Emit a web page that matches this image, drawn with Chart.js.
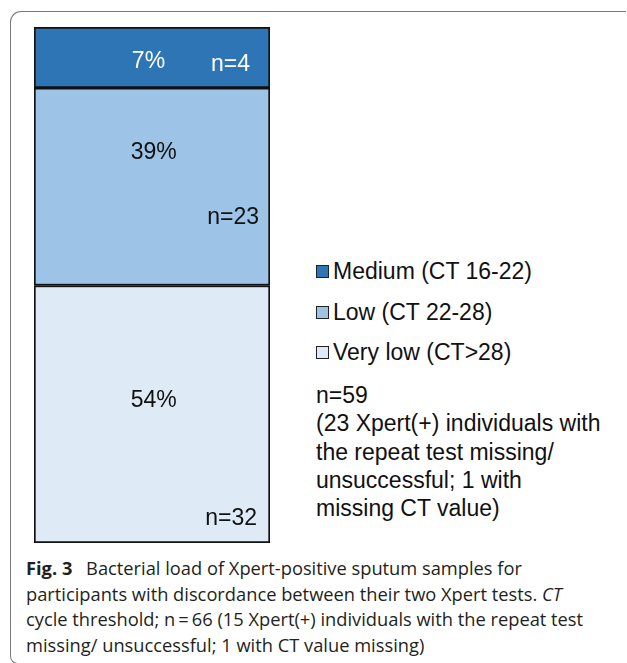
<!DOCTYPE html>
<html>
<head>
<meta charset="utf-8">
<script src="https://cdn.jsdelivr.net/npm/chart.js@4.4.1/dist/chart.umd.min.js"></script>
<style>
  html, body { margin: 0; padding: 0; background: #fff; }
  body { width: 627px; height: 663px; position: relative; overflow: hidden; }
  #frame { position: absolute; left: 10px; top: 11px; width: 616px; height: 653px;
           border-top: 1.5px solid #7a7a7a; border-left: 1.5px solid #7a7a7a;
           border-top-left-radius: 11px; border-bottom-left-radius: 8px;
           border-bottom: 1.5px solid #7a7a7a; box-sizing: border-box; }
  #chartBox { position: absolute; left: 34px; top: 27px; width: 236px; height: 516px; }
  #legend { position: absolute; left: 316px; top: 257px; font-family: "Liberation Sans", Arial, sans-serif;
            font-size: 23px; color: #111; }
  .li { position: absolute; left: 0; white-space: nowrap; line-height: 28px; }
  .sw { display: inline-block; width: 11px; height: 11px; border: 1.5px solid #222; margin-right: 4px;
        vertical-align: 1px; box-sizing: content-box; }
  #note { position: absolute; left: 0; top: 124px; white-space: nowrap; line-height: 28.3px; }
  #caption { position: absolute; left: 26px; top: 555px; font-family: "Open Sans", sans-serif;
             font-size: 18.3px; line-height: 25.5px; color: #231f20; white-space: nowrap; }
  #caption b { font-weight: 700; margin-right: 9px; }
</style>
</head>
<body>
<div id="frame"></div>
<div id="chartBox"><canvas id="c"></canvas></div>
<div id="legend"></div>
<div id="caption"></div>
<script>
// ---- data ----
const categories = ["Discordant Xpert"];
const seriesNames = ["Medium (CT 16-22)", "Low (CT 22-28)", "Very low (CT>28)"];
// segment heights as drawn in the picture (share of bar height, %)
const segmentHeights = [11.8, 38.3, 49.9];
const percentLabels = ["7%", "39%", "54%"];
const countLabels = ["n=4", "n=23", "n=32"];
const noteLines = ["n=59", "(23 Xpert(+) individuals with", "the repeat test missing/", "unsuccessful; 1 with", "missing CT value)"];
const captionLines = [
  "Bacterial load of Xpert-positive sputum samples for",
  "participants with discordance between their two Xpert tests. <i>CT</i>",
  "cycle threshold; n\u2009=\u200966 (15 Xpert(+) individuals with the repeat test",
  "missing/ unsuccessful; 1 with CT value missing)"
];

// ---- styles ----
const colors = ["#2e75b6", "#9dc3e6", "#deebf7"];
const textColors = ["#ffffff", "#111111", "#111111"];
// label placement: fraction of segment height from top; x fraction / right inset
const pctPos = [{fy: 0.57, fx: 0.485}, {fy: 0.33, fx: 0.507}, {fy: 0.447, fx: 0.507}];
const cntPos = [{fy: 0.62, inset: 20}, {fy: 0.655, inset: 11}, {fy: 0.907, inset: 13}];

// datasets stacked bottom-up: very low, low, medium
const order = [2, 1, 0];
const datasets = order.map(i => ({
  label: seriesNames[i],
  data: [segmentHeights[i]],
  backgroundColor: colors[i],
  borderColor: "#111111",
  borderWidth: 2,
  borderSkipped: false,
  barPercentage: 1,
  categoryPercentage: 1,
  _idx: i
}));

const labelPlugin = {
  id: "segLabels",
  afterDatasetsDraw(chart) {
    const ctx = chart.ctx;
    ctx.save();
    ctx.font = '23px "Liberation Sans", Arial, sans-serif';
    ctx.textBaseline = "middle";
    chart.data.datasets.forEach((ds, di) => {
      const el = chart.getDatasetMeta(di).data[0];
      const i = ds._idx;
      const top = Math.min(el.y, el.base), bot = Math.max(el.y, el.base);
      const left = el.x - el.width / 2, right = el.x + el.width / 2;
      ctx.fillStyle = textColors[i];
      ctx.textAlign = "center";
      ctx.fillText(percentLabels[i], left + pctPos[i].fx * el.width, top + pctPos[i].fy * (bot - top));
      ctx.textAlign = "right";
      ctx.fillText(countLabels[i], right - cntPos[i].inset, top + cntPos[i].fy * (bot - top));
    });
    ctx.restore();
  }
};

new Chart(document.getElementById("c"), {
  type: "bar",
  data: { labels: categories, datasets },
  options: {
    responsive: true,
    maintainAspectRatio: false,
    animation: false,
    layout: { padding: 0 },
    plugins: { legend: { display: false }, tooltip: { enabled: false } },
    scales: {
      x: { stacked: true, display: false },
      y: { stacked: true, display: false, min: 0, max: 100 }
    }
  },
  plugins: [labelPlugin]
});

// legend
const legend = document.getElementById("legend");
const legendTops = [0, 41, 81];
[0, 1, 2].forEach(i => {
  const d = document.createElement("div");
  d.className = "li";
  d.style.top = legendTops[i] + "px";
  d.innerHTML = '<span class="sw" style="background:' + colors[i] + '"></span>' + seriesNames[i];
  legend.appendChild(d);
});
const note = document.createElement("div");
note.id = "note";
note.innerHTML = noteLines.join("<br>");
legend.appendChild(note);

document.getElementById("caption").innerHTML =
  "<b>Fig. 3</b> " + captionLines.join("<br>");
</script>
</body>
</html>
